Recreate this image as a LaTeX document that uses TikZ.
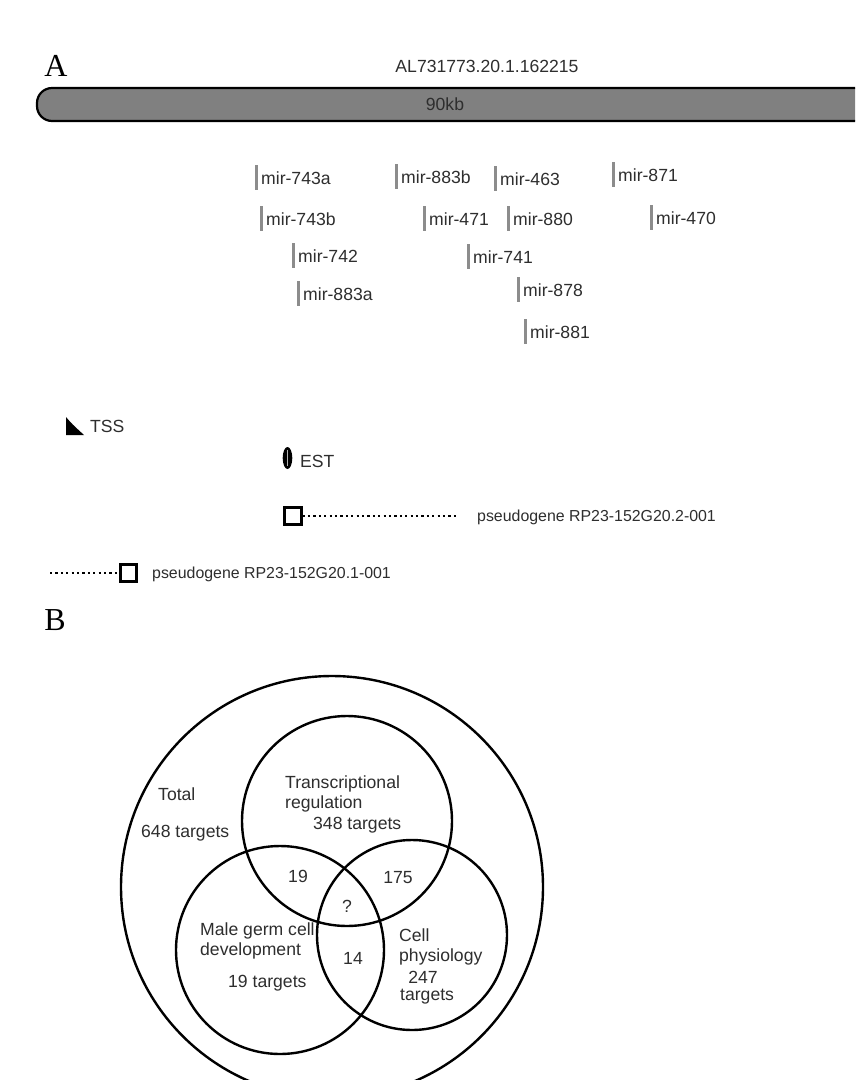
\documentclass[tikz,border=0pt]{standalone}
\usepackage{fontspec}
\setmainfont{Liberation Sans}
\newfontfamily\panelfont{Liberation Serif}
\usetikzlibrary{positioning}
\definecolor{LocusBar}{HTML}{808080}
\definecolor{MirTick}{HTML}{8C8C8C}
\definecolor{LocusText}{HTML}{2E2E2E}
\tikzset{
  lbl/.style={text=LocusText,inner sep=0pt,font=\fontsize{17.6}{20}\selectfont},
  small lbl/.style={text=LocusText,inner sep=0pt,font=\fontsize{15.9}{18}\selectfont},
  panel/.style={inner sep=0pt,font=\panelfont\fontsize{32}{34}\selectfont},
  pgbox/.style={draw=black,line width=2.6pt,minimum size=16.5pt,inner sep=0pt},
  dots/.style={line width=2pt,dash pattern=on 2.2pt off 3.2pt},
  set circle/.style={draw=black,line width=2.4pt}
}

\begin{document}
\begin{tikzpicture}[x=1pt,y=-1pt]
        \clip (0,0) rectangle (855,1080);
        \fill[white] (0,0) rectangle (855,1080);

        % panel A: the locus
        \node[panel] (labA) at (56,66) {A};
        \node[lbl] (locus) at (487,66) {AL731773.20.1.162215};
        \draw[fill=LocusBar,line width=2.2pt,rounded corners=15pt]
          (37,88) rectangle (900,121);
        \node[lbl] (size) at (445,104.5) {90kb};

        \foreach \nm/\px/\py in {743a/256/177,883b/396/176,463/495/178,871/613/174,
          743b/261/218,471/424/218,880/508/218,470/651/217,
          742/293/255,741/468/256,883a/298/293,878/518/289,881/525/331}{
          \fill[MirTick] (\px-1.5,\py-12.5) rectangle (\px+1.5,\py+12.5);
          \node[lbl,anchor=west] (mir\nm) at (\px+5,\py+1) {mir-\nm};
        }

        % TSS and EST
        \fill[black] (66,417) .. controls (72,424) .. (84,435) -- (66,435) -- cycle;
        \node[lbl,anchor=west] (tss) at (90,426) {TSS};
        \fill[black] (287.5,458) ellipse[x radius=4.8,y radius=11];
        \draw[gray!60,line width=0.8pt] (287.5,450) -- (287.5,466);
        \node[lbl,anchor=west] (est) at (300,461) {EST};

        % pseudogenes
        \node[pgbox] (pg2box) at (293,516) {};
        \coordinate (pg2end) at (458,516);
        \draw[dots] (pg2box.east) -- (pg2end);
        \node[small lbl,anchor=west] (pg2) at (477,517) {pseudogene RP23-152G20.2-001};

        \node[pgbox] (pg1box) at (128.5,573) {};
        \coordinate (pg1start) at (50,573);
        \draw[dots] (pg1start) -- (pg1box.west);
        \node[small lbl,anchor=west] (pg1) at (152,574) {pseudogene RP23-152G20.1-001};

        % panel B: target sets
        \node[panel] (labB) at (55,620) {B};
        \draw[set circle] (332,887) circle[radius=211];
        \draw[set circle] (347,821) circle[radius=105];
        \draw[set circle] (280,950) circle[radius=104];
        \draw[set circle] (412,935) circle[radius=95];

        \node[lbl,anchor=west] (total) at (158,794) {Total};
        \node[lbl,anchor=west] (totaln) at (141,833) {648 targets};
        \node[lbl,anchor=west,align=left] (trans) at (285,794)
          {Transcriptional\\regulation};
        \node[lbl,anchor=west] (transn) at (313,825) {348 targets};
        \node[lbl] (tm) at (298,876) {19};
        \node[lbl] (tc) at (398,878) {175};
        \node[lbl] (tmc) at (347,906) {?};
        \node[lbl,anchor=west,align=left] (male) at (200,941)
          {Male germ cell\\development};
        \node[lbl,anchor=west] (malen) at (228,983) {19 targets};
        \node[lbl] (mc) at (353,958) {14};
        \node[lbl,anchor=west,align=left] (cell) at (399,947)
          {Cell\\physiology};
        \node[lbl] (celln) at (423,977) {247};
        \node[lbl,anchor=west] (cellt) at (400,997) {targets};
      \end{tikzpicture}
\end{document}
